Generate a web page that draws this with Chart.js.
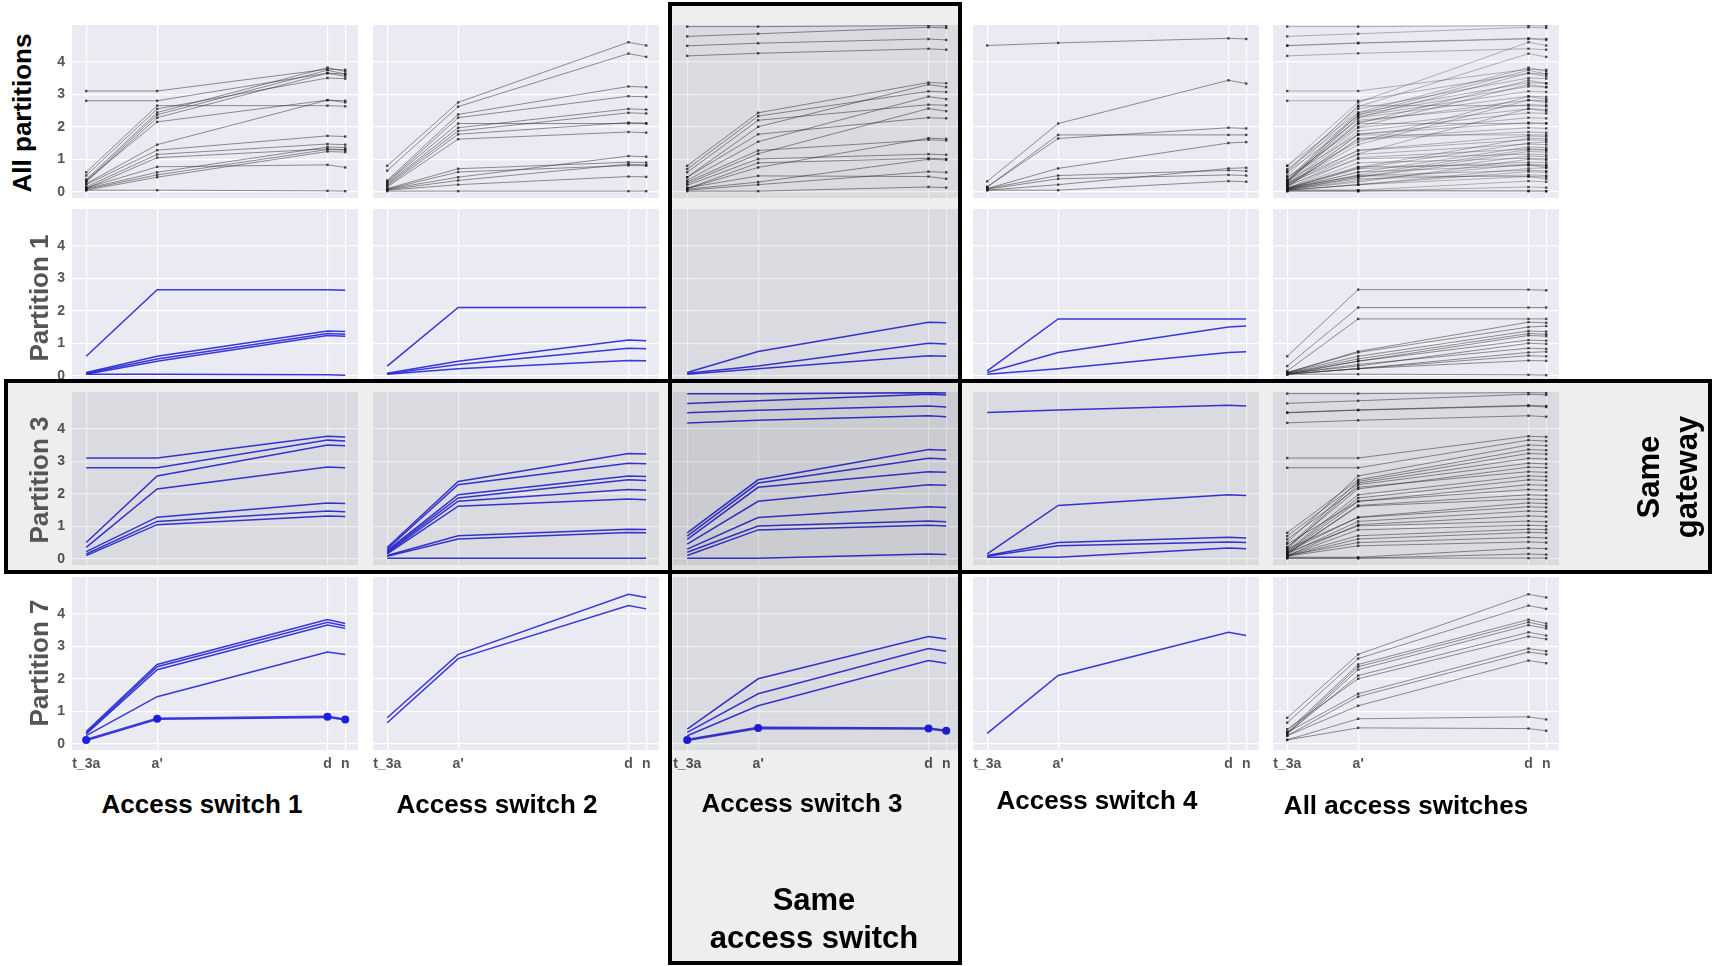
<!DOCTYPE html>
<html>
<head>
<meta charset="utf-8">
<script src="https://cdn.jsdelivr.net/npm/chart.js@4.4.0/dist/chart.umd.min.js"></script>
<style>
    body { margin: 0; background: #fff; font-family: Arial, "Liberation Sans", sans-serif; }
    #figure { position: relative; width: 1714px; height: 966px; overflow: hidden; }
    .panel { position: absolute; }
    .label { position: absolute; font-weight: bold; white-space: nowrap; transform: translate(-50%, -50%); text-align: center; }
    .vlabel { transform: translate(-50%, -50%) rotate(-90deg); }
    .box { position: absolute; box-sizing: border-box; border: 4px solid #000; background: rgba(0, 0, 0, 0.065); pointer-events: none; }
</style>
</head>
<body>
<div id="figure"></div>
<script>
// x axis: the four stages, placed as in the figure
const xLabels = ['t_3a', "a'", 'd', 'n'];
const xPositions = [0, 1, 3.4, 3.65];
const yTicks = [0, 1, 2, 3, 4];

const rowLabels = ['All partitions', 'Partition 1', 'Partition 3', 'Partition 7'];
const colLabels = ['Access switch 1', 'Access switch 2', 'Access switch 3', 'Access switch 4', 'All access switches'];

// one entry per access switch, each line = values at t_3a, a', d, n
const partition1 = [
    [[0.6, 2.65, 2.65, 2.63], [0.1, 0.6, 1.38, 1.36], [0.08, 0.52, 1.3, 1.28], [0.05, 0.45, 1.24, 1.22], [0.05, 0.05, 0.03, 0.02]],
    [[0.3, 2.1, 2.1, 2.1], [0.08, 0.45, 1.1, 1.08], [0.06, 0.35, 0.85, 0.83], [0.05, 0.22, 0.47, 0.46]],
    [[0.1, 0.75, 1.65, 1.63], [0.08, 0.3, 1.0, 0.98], [0.05, 0.22, 0.62, 0.6]],
    [[0.15, 1.75, 1.75, 1.75], [0.1, 0.72, 1.5, 1.53], [0.05, 0.22, 0.72, 0.74]]
];
const partition3 = [
    [[3.1, 3.1, 3.77, 3.75], [2.8, 2.8, 3.65, 3.62], [0.5, 2.55, 3.5, 3.48], [0.35, 2.15, 2.82, 2.8],
     [0.22, 1.28, 1.72, 1.7], [0.15, 1.15, 1.47, 1.45], [0.1, 1.05, 1.32, 1.3]],
    [[0.35, 2.38, 3.24, 3.22], [0.3, 2.28, 2.94, 2.92], [0.25, 1.97, 2.55, 2.53], [0.22, 1.87, 2.43, 2.41],
     [0.18, 1.77, 2.13, 2.11], [0.15, 1.62, 1.84, 1.82], [0.1, 0.71, 0.91, 0.9], [0.08, 0.61, 0.81, 0.8],
     [0.02, 0.02, 0.02, 0.02]],
    [[5.08, 5.08, 5.11, 5.1], [4.78, 4.86, 5.06, 5.04], [4.49, 4.57, 4.7, 4.67], [4.18, 4.26, 4.4, 4.37],
     [0.8, 2.43, 3.36, 3.34], [0.7, 2.33, 3.09, 3.07], [0.6, 2.2, 2.68, 2.66], [0.45, 1.77, 2.28, 2.26],
     [0.3, 1.27, 1.6, 1.58], [0.2, 1.01, 1.16, 1.14], [0.1, 0.89, 1.03, 1.01], [0.02, 0.02, 0.15, 0.13]],
    [[4.5, 4.58, 4.72, 4.7], [0.15, 1.64, 1.97, 1.95], [0.1, 0.5, 0.66, 0.64], [0.08, 0.4, 0.52, 0.5],
     [0.05, 0.05, 0.33, 0.31]]
];
const partition7 = [
    [[0.38, 2.44, 3.82, 3.7], [0.33, 2.37, 3.74, 3.62], [0.3, 2.28, 3.65, 3.55], [0.25, 1.45, 2.82, 2.75], [0.12, 0.77, 0.83, 0.75]],
    [[0.8, 2.75, 4.6, 4.5], [0.65, 2.62, 4.25, 4.15]],
    [[0.45, 2.0, 3.3, 3.22], [0.35, 1.54, 2.93, 2.85], [0.25, 1.17, 2.56, 2.48], [0.12, 0.49, 0.47, 0.4]],
    [[0.32, 2.1, 3.43, 3.33]]
];
// line drawn with big markers in Partition 7 (index per switch, -1 = none)
const partition7Marked = [4, -1, 3, -1];

const partitions = [partition1, partition3, partition7];

// panel layout in the picture
const colLeft = [72, 373, 673, 973, 1273];
const rowTop = [25, 209, 392, 577];
const panelW = 286;
const panelH = 173;
const axisW = 30;
const axisH = 30;

const fig = document.getElementById('figure');
const fontFamily = 'Arial, "Liberation Sans", sans-serif';

const panelBg = {
    id: 'panelBg',
    beforeDraw(chart) {
        const { ctx, chartArea: a } = chart;
        ctx.save();
        ctx.fillStyle = '#EAEAF2';
        ctx.fillRect(a.left, a.top, a.right - a.left, a.bottom - a.top);
        ctx.restore();
    }
};

function linesFor(r, c) {
    if (r === 0) {
        if (c < 4) return partitions.flatMap(p => p[c]);
        return partitions.flatMap(p => p.flat(1));
    }
    const p = partitions[r - 1];
    return c < 4 ? p[c] : p.flat(1);
}

function makeDatasets(r, c) {
    const black = (r === 0 || c === 4);
    const faint = (r === 0 && c === 4);
    return linesFor(r, c).map((vals, i) => {
        const data = vals.map((v, k) => ({ x: xPositions[k], y: v }));
        if (black) {
            return {
                data: data,
                borderColor: faint ? 'rgba(40,40,40,0.32)' : 'rgba(40,40,40,0.5)',
                borderWidth: 1,
                pointRadius: 1.7,
                pointStyle: 'rect',
                pointBackgroundColor: 'rgba(25,25,25,0.75)',
                pointBorderWidth: 0
            };
        }
        const marked = (r === 3 && partition7Marked[c] === i);
        return {
            data: data,
            borderColor: 'rgba(35,35,215,0.9)',
            borderWidth: marked ? 2.6 : 1.5,
            pointRadius: marked ? 4 : 0,
            pointBackgroundColor: 'rgb(30,30,225)',
            pointBorderWidth: 0
        };
    });
}

for (let r = 0; r < 4; r++) {
    for (let c = 0; c < 5; c++) {
        const showX = (r === 3);
        const w = panelW + axisW;
        const h = panelH + (showX ? axisH : 0);
        const canvas = document.createElement('canvas');
        canvas.className = 'panel';
        canvas.width = w;
        canvas.height = h;
        canvas.style.left = (colLeft[c] - axisW) + 'px';
        canvas.style.top = rowTop[r] + 'px';
        canvas.style.width = w + 'px';
        canvas.style.height = h + 'px';
        fig.appendChild(canvas);

        new Chart(canvas.getContext('2d'), {
            type: 'line',
            data: { datasets: makeDatasets(r, c) },
            plugins: [panelBg],
            options: {
                responsive: false,
                animation: false,
                events: [],
                layout: { padding: 0, autoPadding: false },
                elements: { line: { tension: 0 } },
                plugins: { legend: { display: false }, tooltip: { enabled: false } },
                scales: {
                    x: {
                        type: 'linear', min: -0.2, max: 3.83,
                        afterBuildTicks: s => { s.ticks = xPositions.map(v => ({ value: v })); },
                        afterFit: s => {
                            s.height = showX ? axisH : 0;
                            s.paddingLeft = 0; s.paddingRight = 0;
                        },
                        grid: { color: '#ffffff', lineWidth: 1.2, drawTicks: false },
                        border: { display: false },
                        ticks: {
                            display: showX, autoSkip: false, maxRotation: 0, minRotation: 0,
                            padding: 6, color: '#555',
                            font: { family: fontFamily, size: 14, weight: 'bold' },
                            callback: (v, i) => xLabels[i]
                        }
                    },
                    y: {
                        min: -0.19, max: 5.13,
                        afterBuildTicks: s => { s.ticks = yTicks.map(v => ({ value: v })); },
                        afterFit: s => {
                            s.width = axisW;
                            s.paddingTop = 0; s.paddingBottom = 0;
                        },
                        grid: { color: '#ffffff', lineWidth: 1.2, drawTicks: false },
                        border: { display: false },
                        ticks: {
                            padding: 7,
                            color: c === 0 ? '#555' : 'rgba(0,0,0,0)',
                            font: { family: fontFamily, size: 14, weight: 'bold' }
                        }
                    }
                }
            }
        });
    }
}

function addLabel(text, x, y, size, color, vertical) {
    const d = document.createElement('div');
    d.className = 'label' + (vertical ? ' vlabel' : '');
    d.innerHTML = text;
    d.style.left = x + 'px';
    d.style.top = y + 'px';
    d.style.fontSize = size + 'px';
    d.style.color = color;
    d.style.lineHeight = '1.22';
    fig.appendChild(d);
}

// highlight boxes
const colBox = document.createElement('div');
colBox.className = 'box';
Object.assign(colBox.style, { left: '668px', top: '2px', width: '294px', height: '963px' });
fig.appendChild(colBox);
const rowBox = document.createElement('div');
rowBox.className = 'box';
Object.assign(rowBox.style, { left: '4px', top: '379px', width: '1708px', height: '195px' });
fig.appendChild(rowBox);

// row labels
const rowLabelX = [23, 40, 40, 40];
const rowLabelY = [113, 298, 480, 663];
rowLabels.forEach((t, i) => addLabel(t, rowLabelX[i], rowLabelY[i], 26, i === 0 ? '#000' : '#555', true));

// column labels
const colLabelX = [202, 497, 802, 1097, 1406];
const colLabelY = [805, 805, 804, 801, 806];
colLabels.forEach((t, i) => addLabel(t, colLabelX[i], colLabelY[i], 26, '#000', false));

addLabel('Same<br>access switch', 814, 919, 31, '#000', false);
addLabel('Same<br>gateway', 1668, 477, 31, '#000', true);
</script>
</body>
</html>
